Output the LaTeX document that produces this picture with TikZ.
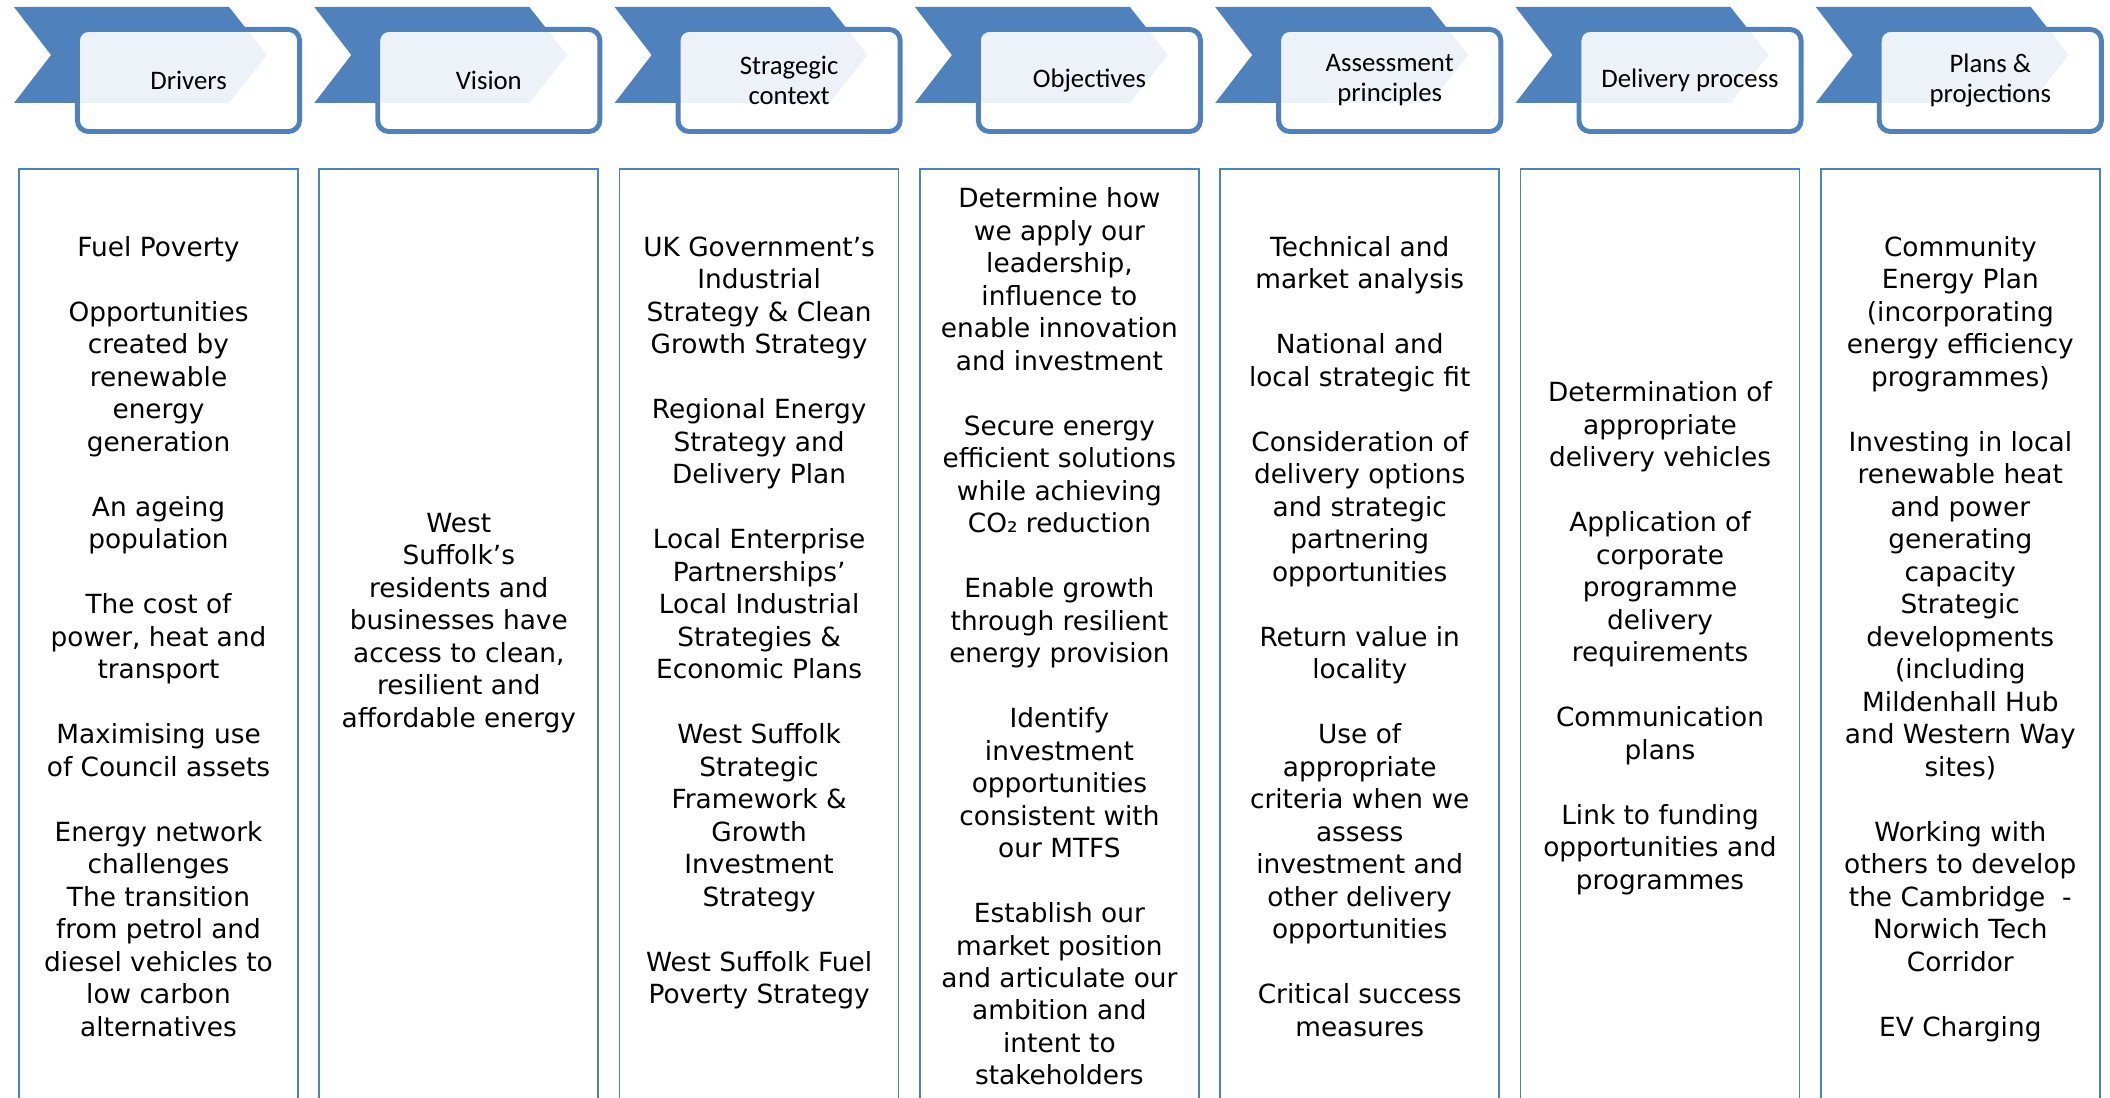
\documentclass[tikz,border=0pt]{standalone}
\usepackage{fontspec}
\setmainfont{DejaVu Sans}
\newfontfamily\headfont{Carlito}
\usepackage{xcolor}
\usepackage{tikz}

\definecolor{chevblue}{HTML}{4F81BD}

\begin{document}
\begin{tikzpicture}[x=0.01cm, y=-0.01cm, line join=miter]
    \useasboundingbox (0,0) rectangle (2110,1098);

    \tikzset{
        headbox/.style={draw=chevblue, line width=1.4pt, rounded corners=0.11cm,
            fill=white, fill opacity=0.9, text opacity=1,
            minimum width=2.22cm, minimum height=1.02cm, inner sep=0pt,
            align=center, font=\headfont\fontsize{7.6}{8.5}\selectfont},
        bodytext/.style={anchor=north, inner sep=0pt, align=center,
            font=\fontsize{7.5}{9.24}\selectfont},
    }

    \def\pitch{300.3}
    \def\gap{9.24pt}

    % chevrons, header boxes and column frames
    \foreach \lbl [count=\i from 0] in {Drivers, Vision, {Stragegic\\context}, Objectives,
            {Assessment\\principles}, {Delivery process}, {Plans \&\\projections}} {
        \pgfmathsetmacro\xo{18+\i*\pitch}
        \fill[chevblue] (\xo-4,7) -- (\xo+211,7) -- (\xo+249,55) -- (\xo+211,103)
            -- (\xo-4,103) -- (\xo+33,55) -- cycle;
        \node[headbox] (hd\i) at (\xo+170.5,80.5) {\lbl};
        \draw[chevblue, line width=0.5pt] (\xo+1,1098) -- (\xo+1,169) -- (\xo+280,169) -- (\xo+280,1098);
    }

    % column texts
    \node[bodytext] (drivers) at (158.5,232.7) {\strut Fuel Poverty\\[\gap]
        Opportunities\\created by\\renewable\\energy\\generation\\[\gap]
        An ageing\\population\\[\gap]
        The cost of\\power, heat and\\transport\\[\gap]
        Maximising use\\of Council assets\\[\gap]
        Energy network\\challenges\\The transition\\from petrol and\\diesel vehicles to\\low carbon\\alternatives};

    \node[bodytext] (vision) at (458.8,508.7) {\strut West\\Suffolk’s\\residents and\\businesses have\\access to clean,\\resilient and\\affordable energy};

    \node[bodytext] (context) at (759.1,232.7) {\strut UK Government’s\\Industrial\\Strategy \& Clean\\Growth Strategy\\[\gap]
        Regional Energy\\Strategy and\\Delivery Plan\\[\gap]
        Local Enterprise\\Partnerships’\\Local Industrial\\Strategies \&\\Economic Plans\\[\gap]
        West Suffolk\\Strategic\\Framework \&\\Growth\\Investment\\Strategy\\[\gap]
        West Suffolk Fuel\\Poverty Strategy};

    \node[bodytext] (objectives) at (1059.4,184.2) {\strut Determine how\\we apply our\\leadership,\\influence to\\enable innovation\\and investment\\[\gap]
        Secure energy\\efficient solutions\\while achieving\\CO₂ reduction\\[\gap]
        Enable growth\\through resilient\\energy provision\\[\gap]
        Identify\\investment\\opportunities\\consistent with\\our MTFS\\[\gap]
        Establish our\\market position\\and articulate our\\ambition and\\intent to\\stakeholders};

    \node[bodytext] (principles) at (1359.7,232.7) {\strut Technical and\\market analysis\\[\gap]
        National and\\local strategic fit\\[\gap]
        Consideration of\\delivery options\\and strategic\\partnering\\opportunities\\[\gap]
        Return value in\\locality\\[\gap]
        Use of\\appropriate\\criteria when we\\assess\\investment and\\other delivery\\opportunities\\[\gap]
        Critical success\\measures};

    \node[bodytext] (delivery) at (1660.0,378.2) {\strut Determination of\\appropriate\\delivery vehicles\\[\gap]
        Application of\\corporate\\programme\\delivery\\requirements\\[\gap]
        Communication\\plans\\[\gap]
        Link to funding\\opportunities and\\programmes};

    \node[bodytext] (plans) at (1960.3,232.7) {\strut Community\\Energy Plan\\(incorporating\\energy efficiency\\programmes)\\[\gap]
        Investing in local\\renewable heat\\and power\\generating\\capacity\\Strategic\\developments\\(including\\Mildenhall Hub\\and Western Way\\sites)\\[\gap]
        Working with\\others to develop\\the Cambridge\ \ -\\Norwich Tech\\Corridor\\[\gap]
        EV Charging};
\end{tikzpicture}
\end{document}
